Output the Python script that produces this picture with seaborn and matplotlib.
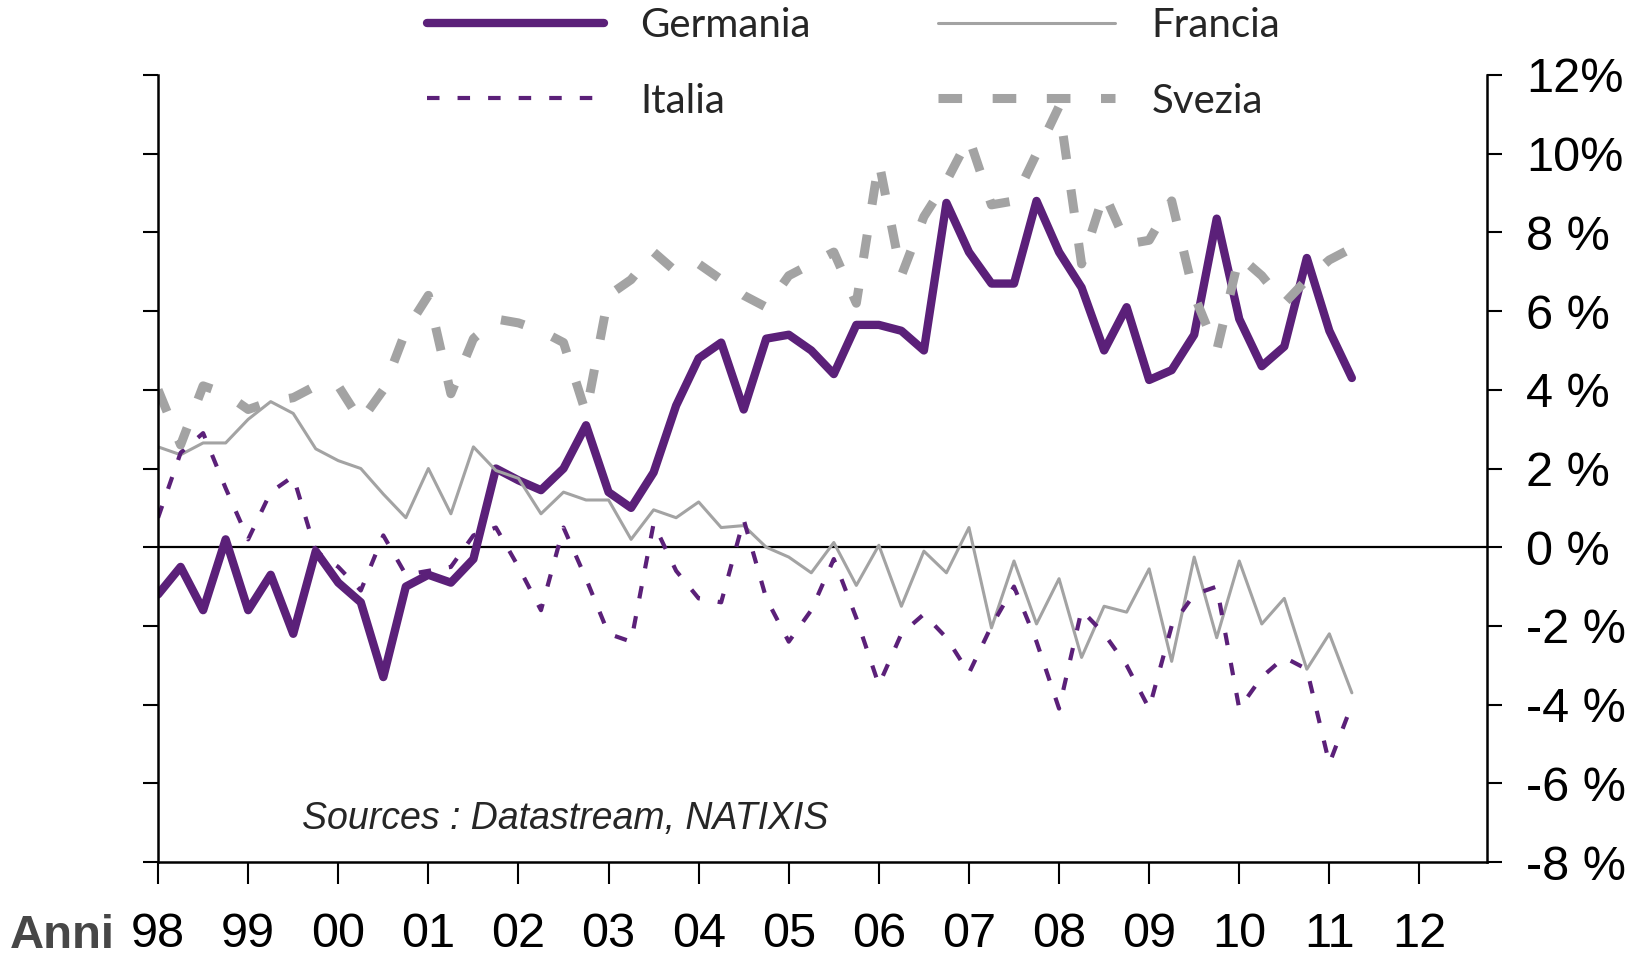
import numpy as np
import pandas as pd
import matplotlib
matplotlib.use("Agg")
import matplotlib.pyplot as plt
import seaborn as sns

# Style: plain white, narrow Arial-like font for the axis numbers
sns.set_style("white")
plt.rcParams['font.family'] = ['Liberation Sans Narrow', 'Liberation Sans', 'DejaVu Sans']
plt.rcParams['lines.scale_dashes'] = False

# ------------------------------------------------------------------
# Data: quarterly growth rates, 1998Q1 - 2011Q2
# ------------------------------------------------------------------
quarters = pd.period_range("1998Q1", "2011Q2", freq="Q")

germania = [-1.2, -0.5, -1.6, 0.2, -1.6, -0.7, -2.2, -0.1, -0.9, -1.4,
            -3.3, -1.0, -0.7, -0.9, -0.3, 2.0, 1.7, 1.45, 2.0, 3.1,
            1.4, 1.0, 1.9, 3.6, 4.8, 5.2, 3.5, 5.3, 5.4, 5.0,
            4.4, 5.65, 5.65, 5.5, 5.0, 8.75, 7.5, 6.7, 6.7, 8.8,
            7.5, 6.6, 5.0, 6.1, 4.25, 4.5, 5.4, 8.35, 5.8, 4.6,
            5.1, 7.35, 5.5, 4.3]

francia = [2.55, 2.35, 2.65, 2.65, 3.25, 3.7, 3.4, 2.5, 2.2, 2.0,
           1.35, 0.75, 2.0, 0.85, 2.55, 1.95, 1.75, 0.85, 1.4, 1.2,
           1.2, 0.2, 0.95, 0.75, 1.15, 0.5, 0.55, 0.0, -0.25, -0.65,
           0.12, -0.97, 0.05, -1.5, -0.1, -0.65, 0.5, -2.05, -0.35, -1.95,
           -0.8, -2.8, -1.5, -1.65, -0.55, -2.9, -0.25, -2.3, -0.35, -1.95,
           -1.3, -3.1, -2.2, -3.7]

italia = [0.75, 2.4, 2.9, 1.5, 0.2, 1.4, 1.8, -0.1, -0.5, -1.1,
          0.3, -0.7, -0.6, -0.5, 0.3, 0.5, -0.5, -1.6, 0.5, -0.8,
          -2.2, -2.4, 0.6, -0.6, -1.3, -1.4, 0.7, -1.3, -2.4, -1.6,
          -0.3, -1.8, -3.5, -2.2, -1.7, -2.3, -3.2, -2.0, -1.0, -2.4,
          -4.1, -1.6, -2.2, -3.0, -4.1, -2.0, -1.2, -1.0, -4.1, -3.3,
          -2.8, -3.1, -5.5, -4.0]

svezia = [4.0, 2.6, 4.1, 3.9, 3.5, 3.7, 3.8, 4.1, 4.1, 3.2,
          4.0, 5.5, 6.4, 3.9, 5.3, 5.8, 5.7, 5.5, 5.2, 3.4,
          6.4, 6.8, 7.5, 7.0, 7.2, 6.8, 6.4, 6.1, 6.9, 7.2,
          7.5, 6.2, 9.8, 6.9, 8.4, 9.3, 10.4, 8.7, 8.8, 10.0,
          11.2, 7.2, 9.0, 7.7, 7.8, 8.8, 6.4, 5.0, 7.4, 6.9,
          6.2, 6.8, 7.3, 7.6]

year_ticks = list(range(1998, 2013))
year_labels = ["98", "99", "00", "01", "02", "03", "04", "05",
               "06", "07", "08", "09", "10", "11", "12"]
pct_ticks = list(range(-8, 13, 2))
pct_labels = ["-8 %", "-6 %", "-4 %", "-2 %", "0 %", "2 %",
              "4 %", "6 %", "8 %", "10%", "12%"]

df = pd.DataFrame({
    "anno": quarters.year + (quarters.quarter - 1) / 4,
    "Germania": germania,
    "Francia": francia,
    "Italia": italia,
    "Svezia": svezia,
})

purple = "#5B2079"
grey = "#A3A3A3"
line_styles = {
    "Germania": dict(color=purple, linewidth=6.0, linestyle="-"),
    "Francia": dict(color=grey, linewidth=2.2, linestyle="-"),
    "Italia": dict(color=purple, linewidth=3.0, linestyle=(0, (9, 13))),
    "Svezia": dict(color=grey, linewidth=6.5, linestyle=(0, (17, 22))),
}

# ------------------------------------------------------------------
# Figure
# ------------------------------------------------------------------
fig = plt.figure(figsize=(16.33, 9.59), dpi=100)
ax = fig.add_axes([0.0968, 0.1011, 0.8138, 0.8207])

ax.axhline(0, color="black", linewidth=1.6, zorder=1)

for name in ["Germania", "Francia", "Italia", "Svezia"]:
    sns.lineplot(data=df, x="anno", y=name, ax=ax, label=name, legend=False,
                 dash_capstyle="butt", solid_capstyle="round", zorder=2,
                 **line_styles[name])

ax.set_xlim(1998, 2012.75)
ax.set_ylim(-8, 12)
ax.set_xticks(year_ticks, year_labels)
ax.set_yticks(pct_ticks, pct_labels)
ax.set_xlabel("")
ax.set_ylabel("")

for side in ["left", "right", "bottom"]:
    ax.spines[side].set_visible(True)
    ax.spines[side].set_color("black")
    ax.spines[side].set_linewidth(1.8)
ax.spines["top"].set_visible(False)

ax.tick_params(axis="y", left=True, right=True, labelleft=False, labelright=True,
               direction="out", length=11, width=1.5, pad=17, labelsize=35,
               colors="black")
ax.tick_params(axis="x", bottom=True, direction="out", length=16, width=1.5,
               pad=20, labelsize=35, colors="black")

# Source note inside the plot
ax.text(1999.6, -6.9, "Sources : Datastream, NATIXIS", style="italic",
        fontsize=27, color="#262626", va="center", ha="left")

# "Anni" label left of the year ticks
fig.text(10 / 1633, 0.0115, "Anni", fontweight="bold", color="#474747",
         fontsize=34, va="baseline", ha="left")

# Legend above the plot, two columns
handles, labels = ax.get_legend_handles_labels()
order = [0, 2, 1, 3]
fig.legend([handles[i] for i in order], [labels[i] for i in order],
           loc="upper left", bbox_to_anchor=(427 / 1633, 0.9924), ncol=2,
           frameon=False, prop={"family": ["Lato"], "size": 29},
           handlelength=4.4, handletextpad=0.9, columnspacing=3.15,
           labelspacing=0.95, borderpad=0, borderaxespad=0)

fig.savefig("out.png", dpi=100)
